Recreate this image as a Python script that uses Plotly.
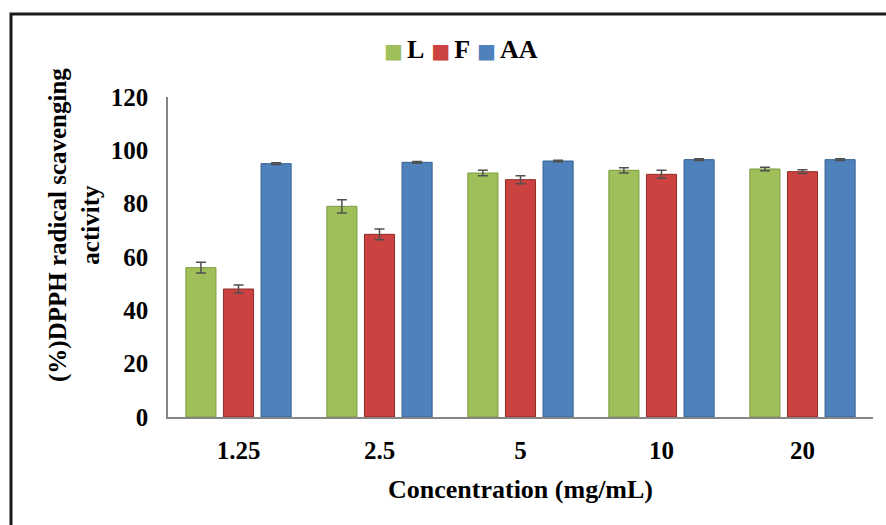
import plotly.graph_objects as go

categories = ["1.25", "2.5", "5", "10", "20"]
L_vals = [56, 79, 91.5, 92.5, 93]
L_err = [2, 2.5, 1, 1, 0.7]
F_vals = [48, 68.5, 89, 91, 92]
F_err = [1.5, 2, 1.5, 1.5, 0.7]
AA_vals = [95, 95.5, 96, 96.5, 96.5]
AA_err = [0.3, 0.3, 0.3, 0.3, 0.3]

series = [
    ("L", L_vals, L_err, "#9FBF5B", "#7A9A3C"),
    ("F", F_vals, F_err, "#CC4240", "#8E2B29"),
    ("AA", AA_vals, AA_err, "#4F81BD", "#34608F"),
]

FONT = "Liberation Serif, Times New Roman, serif"

fig = go.Figure()
for name, vals, errs, col, lcol in series:
    fig.add_trace(go.Bar(
        name=name, x=categories, y=vals,
        marker=dict(color=col, line=dict(color=lcol, width=1)),
        error_y=dict(type="data", array=errs, visible=True,
                     color="#505050", thickness=1.5, width=5),
        showlegend=False,
    ))

small_gap = '<span style="font-size:16px">&nbsp;</span>'
big_gap = '<span style="font-size:14px">&nbsp;&nbsp;</span>'
legend_text = big_gap.join(
    f'<span style="color:{col};font-size:20px;font-family:DejaVu Sans">■</span>{small_gap}<b>{name}</b>'
    for name, _, _, col, _ in series
)

fig.update_layout(
    width=886, height=525,
    margin=dict(l=168, r=13, t=97, b=108),
    paper_bgcolor="white", plot_bgcolor="white",
    barmode="group", bargap=0.2, bargroupgap=0.2,
    font=dict(family=FONT, size=25, color="black"),
    xaxis=dict(showline=True, linecolor="#868686", linewidth=1.5,
               ticks="", showgrid=False, zeroline=False,
               tickfont=dict(family=FONT, size=25, weight="bold"),
               ticklabelstandoff=10),
    yaxis=dict(range=[0, 120], tickvals=[0, 20, 40, 60, 80, 100, 120],
               showline=True, linecolor="#868686", linewidth=1.5,
               ticks="", showgrid=False, zeroline=False,
               tickfont=dict(family=FONT, size=25, weight="bold"),
               ticklabelstandoff=13),
    shapes=[dict(type="rect", xref="paper", yref="paper",
                 x0=-0.2227, x1=1.03, y0=-0.4, y1=1.259,
                 line=dict(color="#1a1a1a", width=3), fillcolor="rgba(0,0,0,0)")],
    annotations=[
        dict(text=legend_text, xref="paper", yref="paper",
             x=(461 - 168) / 705, y=(417 - 50) / 320,
             showarrow=False, xanchor="center", yanchor="middle",
             font=dict(family=FONT, size=26, color="black")),
        dict(text="<b>(%)DPPH radical scavenging<br>activity</b>",
             xref="paper", yref="paper", x=(74 - 168) / 705, y=0.6,
             textangle=-90, showarrow=False, xanchor="center", yanchor="middle",
             font=dict(family=FONT, size=25, color="black")),
        dict(text="<b>Concentration (mg/mL)</b>",
             xref="paper", yref="paper", x=0.5, y=(417 - 489) / 320,
             showarrow=False, xanchor="center", yanchor="middle",
             font=dict(family=FONT, size=26, color="black")),
    ],
)

fig.write_html("out.html")
